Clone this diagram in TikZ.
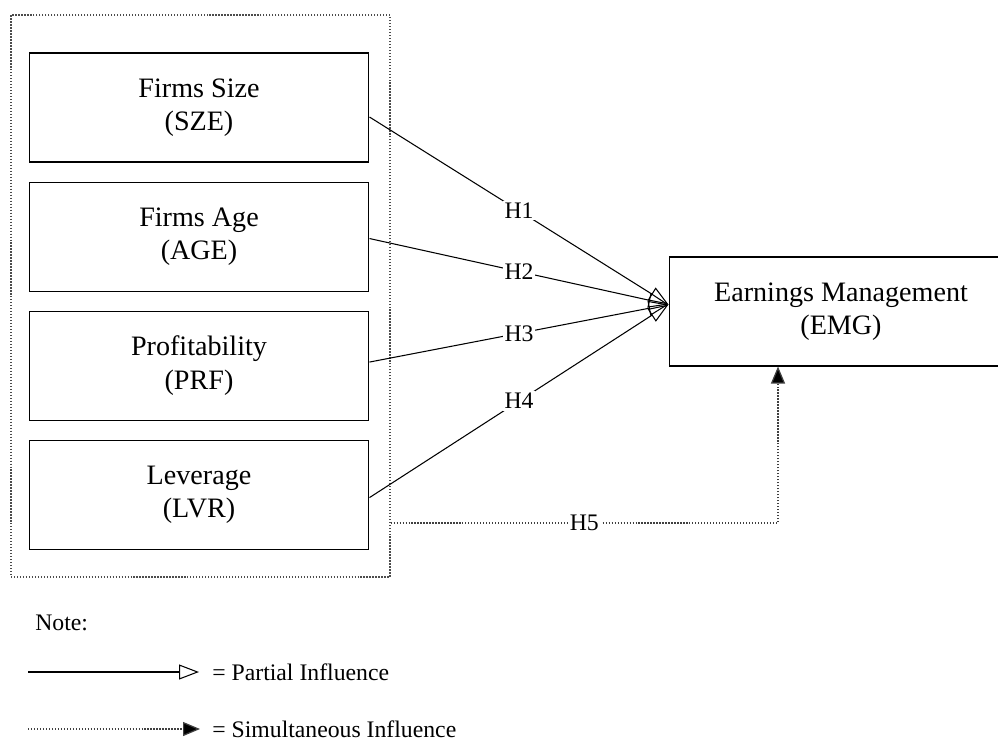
\documentclass[tikz,border=0pt]{standalone}
\usepackage{fontspec}
\setmainfont{Liberation Serif}
\usetikzlibrary{positioning,arrows.meta}

\begin{document}
\begin{tikzpicture}[x=0.02cm, y=-0.02cm, node distance=0.38cm,
    var node/.style={draw, line width=0.6pt, minimum width=6.8cm, minimum height=2.18cm,
                     align=center, font=\fontsize{16}{19}\selectfont},
    group box/.style={draw=black!70, densely dotted, line width=0.7pt, minimum width=7.58cm, minimum height=11.24cm},
    partial/.style={line width=0.6pt, -{Triangle[open, length=0.4cm, width=0.3cm]}},
    simult/.style={draw=black!75, densely dotted, line width=0.7pt, -{Triangle[length=0.34cm, width=0.28cm, fill=black]}},
    hyp/.style={fill=white, inner sep=1pt, font=\fontsize{13.5}{15}\selectfont},
    note/.style={anchor=west, inner sep=0pt, font=\fontsize{13.5}{16}\selectfont}]
    \useasboundingbox (0,0) rectangle (998,745);
    \clip (0,0) rectangle (998,745);

    \node[group box] (grp) at (200.5,296) {};
    \node[var node] (sze) at (199,107.5) {Firms Size\\(SZE)};
    \node[var node] (age) [below=of sze] {Firms Age\\(AGE)};
    \node[var node] (prf) [below=of age] {Profitability\\(PRF)};
    \node[var node] (lvr) [below=of prf] {Leverage\\(LVR)};
    \node[var node, minimum width=6.88cm] (emg) at (841,311.5) {Earnings Management\\(EMG)};

    \coordinate (tip) at ([yshift=0.14cm]emg.west);
    \coordinate (h5) at (778,523);

    % partial influence
    \path[every node/.style={hyp}]
        ([yshift=-0.19cm]sze.east) edge[partial] node {H1} (tip)
        ([yshift=-0.04cm]age.east) edge[partial] node {H2} (tip)
        ([yshift=0.07cm]prf.east)  edge[partial] node {H3} (tip)
        ([yshift=-0.06cm]lvr.east) edge[partial] node {H4} (tip);

    % simultaneous influence
    \draw[simult] (grp.east |- h5) -- node[hyp] {H5} (h5) -- (h5 |- emg.south);

    % legend
    \node[note] (note) at (35,623) {Note:};
    \coordinate (pa) at (28,672);
    \coordinate (pb) at (199,672);
    \coordinate (sa) at (28,729);
    \coordinate (sb) at (200,729);
    \draw[partial] (pa) -- (pb);
    \draw[simult] (sa) -- (sb);
    \node[note] (ptxt) at (212,672) {= Partial Influence};
    \node[note] (stxt) at (212,729) {= Simultaneous Influence};
\end{tikzpicture}
\end{document}
